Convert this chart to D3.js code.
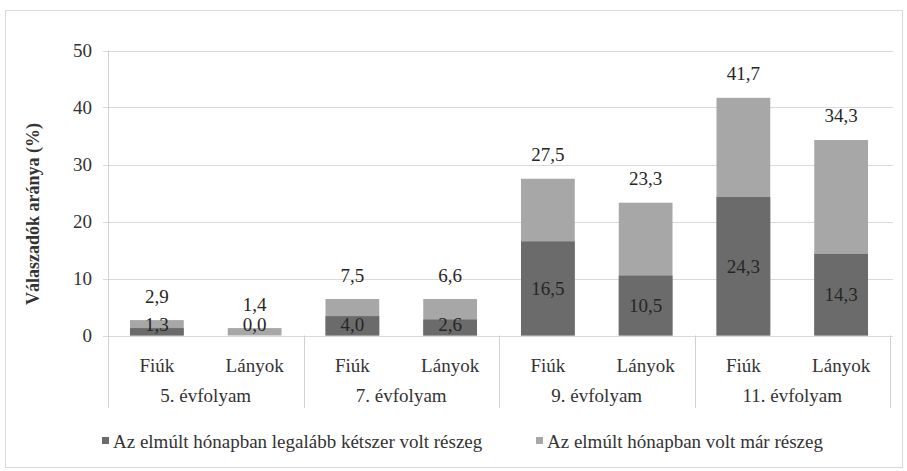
<!DOCTYPE html>
<html>
<head>
<meta charset="utf-8">
<script src="https://cdn.jsdelivr.net/npm/d3@7"></script>
<style>
  html, body { margin: 0; padding: 0; background: #fff; }
</style>
</head>
<body>
<svg id="chart" width="907" height="471"></svg>
<script>
// ---- data ----
const groups = ["5. évfolyam", "7. évfolyam", "9. évfolyam", "11. évfolyam"];
const genders = ["Fiúk", "Lányok"];
// labelled values (%)
const atLeastTwice = [1.3, 0.0, 4.0, 2.6, 16.5, 10.5, 24.3, 14.3];
const everDrunk = [2.9, 1.4, 7.5, 6.6, 27.5, 23.3, 41.7, 34.3];
// bar heights as drawn in the picture (%)
const atLeastTwiceBar = [1.3, 0.0, 3.4, 2.8, 16.5, 10.5, 24.3, 14.3];
const everDrunkBar = [2.7, 1.3, 6.4, 6.4, 27.5, 23.3, 41.7, 34.3];
const yTicks = [0, 10, 20, 30, 40, 50];
const seriesNames = ["Az elmúlt hónapban legalább kétszer volt részeg", "Az elmúlt hónapban volt már részeg"];
const colors = ["#6b6b6b", "#a7a7a7"];

// ---- layout ----
const FONT = '"Liberation Serif", "DejaVu Serif", serif';
const FS = 19;
const svg = d3.select("#chart");
const plotLeft = 108, plotRight = 890, plotTop = 50.5, plotBottom = 335.5, catBottom = 408;
const textColor = "#333";
const labelColor = "#262626";

svg.append("rect").attr("x", 5.5).attr("y", 10.5).attr("width", 897).attr("height", 457)
  .attr("fill", "none").attr("stroke", "#d9d9d9");

const keys = [];
groups.forEach(g => genders.forEach(s => keys.push(g + "|" + s)));

const x = d3.scaleBand().domain(keys).range([plotLeft, plotRight]).paddingInner(0.45).paddingOuter(0.225);
const xg = d3.scaleBand().domain(groups).range([plotLeft, plotRight]).padding(0);
const y = d3.scaleLinear().domain([0, 50]).range([plotBottom, plotTop]);
const fmt = v => d3.format(".1f")(v).replace(".", ",");

// gridlines
svg.append("g").selectAll("line").data(yTicks).join("line")
  .attr("x1", plotLeft - 5).attr("x2", plotRight + 3)
  .attr("y1", d => Math.round(y(d)) + 0.5).attr("y2", d => Math.round(y(d)) + 0.5)
  .attr("stroke", "#d9d9d9").attr("stroke-width", 1);

// y axis labels
const yAxis = d3.axisLeft(y).tickValues(yTicks).tickSize(0).tickPadding(0);
const ya = svg.append("g").attr("transform", `translate(92,0)`).call(yAxis);
ya.select(".domain").remove();
ya.attr("font-size", FS);
ya.selectAll("text").attr("fill", textColor).style("font-family", FONT).style("font-size", FS + "px");

// axis line
svg.append("line").attr("x1", plotLeft + 0.5).attr("x2", plotLeft + 0.5).attr("y1", plotTop).attr("y2", catBottom)
  .attr("stroke", "#d0d0d0");

// group separators
svg.append("g").selectAll("line").data(groups.map(g => xg(g) + xg.bandwidth()).concat([plotLeft])).join("line")
  .attr("x1", d => Math.round(d) + 0.5).attr("x2", d => Math.round(d) + 0.5)
  .attr("y1", plotBottom).attr("y2", catBottom).attr("stroke", "#d0d0d0");

// bars
const idx = d3.range(keys.length);
svg.append("g").selectAll("rect").data(idx).join("rect")
  .attr("x", i => x(keys[i])).attr("width", x.bandwidth())
  .attr("y", i => y(everDrunkBar[i])).attr("height", i => y(0) - y(everDrunkBar[i]))
  .attr("fill", colors[1]);
svg.append("g").selectAll("rect").data(idx).join("rect")
  .attr("x", i => x(keys[i])).attr("width", x.bandwidth())
  .attr("y", i => y(atLeastTwiceBar[i])).attr("height", i => y(0) - y(atLeastTwiceBar[i]))
  .attr("fill", colors[0]);

function styleText(sel, size, color) {
  return sel.style("font-family", FONT).style("font-size", size + "px").attr("fill", color);
}

// value labels
styleText(svg.append("g").selectAll("text").data(idx).join("text")
  .attr("x", i => x(keys[i]) + x.bandwidth() / 2)
  .attr("y", i => Math.min(y(atLeastTwiceBar[i] / 2), y(0) - 11))
  .attr("text-anchor", "middle").attr("dominant-baseline", "central")
  .text(i => fmt(atLeastTwice[i])), FS, labelColor);
styleText(svg.append("g").selectAll("text").data(idx).join("text")
  .attr("x", i => x(keys[i]) + x.bandwidth() / 2)
  .attr("y", i => y(everDrunkBar[i]) - 24)
  .attr("text-anchor", "middle").attr("dominant-baseline", "central")
  .text(i => fmt(everDrunk[i])), FS, labelColor);

// category labels
styleText(svg.append("g").selectAll("text").data(keys).join("text")
  .attr("x", k => x(k) + x.bandwidth() / 2).attr("y", 365)
  .attr("text-anchor", "middle").attr("dominant-baseline", "central")
  .text(k => k.split("|")[1]), FS, textColor);
styleText(svg.append("g").selectAll("text").data(groups).join("text")
  .attr("x", g => xg(g) + xg.bandwidth() / 2).attr("y", 395)
  .attr("text-anchor", "middle").attr("dominant-baseline", "central")
  .text(g => g), FS, textColor);

// y title
styleText(svg.append("text").attr("transform", "translate(33,214) rotate(-90)")
  .attr("text-anchor", "middle").attr("dominant-baseline", "central")
  .attr("font-weight", "bold")
  .text("Válaszadók aránya (%)"), 18, textColor);

// legend
const legendX = [102, 536];
const lg = svg.append("g").selectAll("g").data(seriesNames).join("g")
  .attr("transform", (d, i) => `translate(${legendX[i]},441)`);
lg.append("rect").attr("x", 0).attr("y", -4).attr("width", 7).attr("height", 7)
  .attr("fill", (d, i) => colors[i]);
styleText(lg.append("text").attr("x", 11).attr("y", 0).attr("dominant-baseline", "central")
  .text(d => d), FS, textColor);
</script>
</body>
</html>
